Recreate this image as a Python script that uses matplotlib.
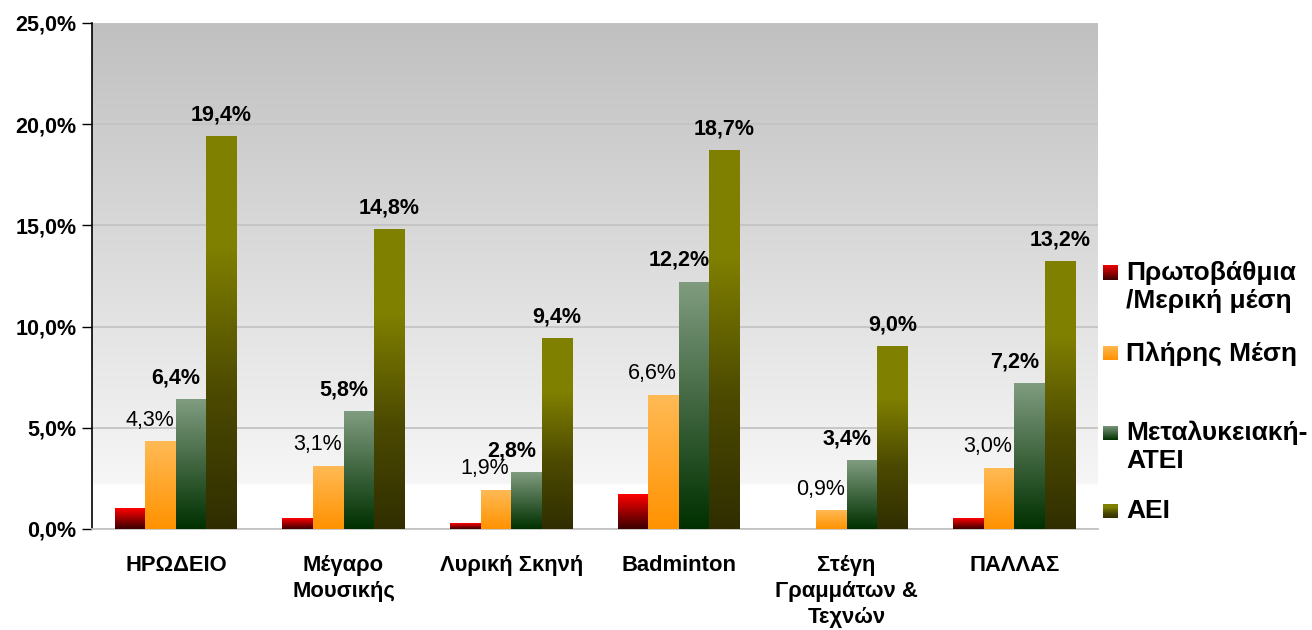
import numpy as np
import matplotlib
matplotlib.use("Agg")
import matplotlib.pyplot as plt
from matplotlib.colors import LinearSegmentedColormap
from matplotlib.ticker import FuncFormatter

plt.rcParams['font.family'] = ['Liberation Sans', 'DejaVu Sans']

categories = ["ΗΡΩΔΕΙΟ", "Μέγαρο\nΜουσικής", "Λυρική Σκηνή", "Badminton",
              "Στέγη\nΓραμμάτων &\nΤεχνών", "ΠΑΛΛΑΣ"]
series_names = ["Πρωτοβάθμια\n/Μερική μέση", "Πλήρης Μέση",
                "Μεταλυκειακή-\nΑΤΕΙ", "ΑΕΙ"]
primary = [1.0, 0.5, 0.25, 1.7, 0.0, 0.5]
full_secondary = [4.3, 3.1, 1.9, 6.6, 0.9, 3.0]
post_secondary = [6.4, 5.8, 2.8, 12.2, 3.4, 7.2]
university = [19.4, 14.8, 9.4, 18.7, 9.0, 13.2]
series_values = [primary, full_secondary, post_secondary, university]
yticks = [0, 5, 10, 15, 20, 25]

# gradient stops (bottom -> top) per series
grad_stops = [
    [(0.0, "#3a0000"), (1.0, "#ff0000")],
    [(0.0, "#ff9200"), (1.0, "#ffba55")],
    [(0.0, "#003000"), (1.0, "#809c80")],
    [(0.0, "#302e00"), (0.35, "#4c4a00"), (0.72, "#808000"), (1.0, "#808000")],
]
cmaps = [LinearSegmentedColormap.from_list(f"g{i}", s) for i, s in enumerate(grad_stops)]
label_show = [False, True, True, True]
label_weight = [None, "normal", "bold", "bold"]
label_dx = [0, -11, -15, 0]  # pixels

W, H = 1312, 630
fig = plt.figure(figsize=(W / 100, H / 100), dpi=100)
fig.patch.set_facecolor("white")
L, R, T, B = 92, 1098, 23, 529
ax = fig.add_axes([L / W, (H - B) / H, (R - L) / W, (B - T) / H])

n = len(categories)
x = np.arange(n)
bw = 0.182

ax.set_xlim(-0.5, n - 0.5)
ax.set_ylim(0, 25)

# background gradient
bg = LinearSegmentedColormap.from_list("bg", [(0.0, "#ffffff"), (0.085, "#ffffff"),
                                               (0.09, "#f6f6f6"), (1.0, "#c0c0c0")])
grad = np.linspace(0, 1, 256).reshape(-1, 1)
ax.imshow(grad, cmap=bg, aspect="auto", extent=[-0.5, n - 0.5, 0, 25],
          origin="lower", zorder=0)

ax.set_yticks(yticks)
ax.grid(axis="y", color="#c4c4c4", linewidth=1.3, zorder=1)
ax.set_axisbelow(True)

ax.yaxis.set_major_formatter(FuncFormatter(lambda v, p: f"{v:.1f}%".replace(".", ",")))
ax.tick_params(axis="y", direction="out", length=7, width=1, colors="black",
               labelsize=15.5, pad=4)
for lab in ax.get_yticklabels():
    lab.set_fontweight("bold")
ax.set_xticks(x)
ax.set_xticklabels(categories, fontsize=15.8, fontweight="bold", linespacing=1.3)
ax.tick_params(axis="x", length=0, pad=19)

for s in ["top", "right"]:
    ax.spines[s].set_visible(False)
ax.spines["bottom"].set_color("#c4c4c4")
ax.spines["bottom"].set_linewidth(1.3)
ax.spines["left"].set_color("black")
ax.spines["left"].set_linewidth(1.2)

gradimg = np.linspace(0, 1, 256).reshape(-1, 1)
for j, vals in enumerate(series_values):
    pos = x + (j - 1.5) * bw
    bars = ax.bar(pos, vals, width=bw, color="none", edgecolor="none", zorder=3)
    for b, v in zip(bars, vals):
        if v <= 0:
            continue
        x0, w, h = b.get_x(), b.get_width(), b.get_height()
        ax.imshow(gradimg, cmap=cmaps[j], aspect="auto", origin="lower",
                  extent=[x0, x0 + w, 0, h], zorder=3)
        if label_show[j]:
            ax.annotate(f"{v:.1f}%".replace(".", ","), (x0 + w / 2, h),
                        xytext=(label_dx[j] * 0.72, 8), textcoords="offset points",
                        ha="center", va="bottom", fontsize=15.5,
                        fontweight=label_weight[j], color="black", zorder=5)
ax.set_xlim(-0.5, n - 0.5)
ax.set_ylim(0, 25)

# legend (manual, gradient markers)
leg_y = [273, 353, 433, 511]
for j, name in enumerate(series_names):
    yc = leg_y[j]
    mx, ms = 1103, 15
    max_ = fig.add_axes([mx / W, (H - yc - ms / 2) / H, ms / W, ms / H])
    max_.imshow(gradimg, cmap=cmaps[j], aspect="auto", origin="lower",
                extent=[0, 1, 0, 1])
    max_.set_axis_off()
    fig.text(1126 / W, (H - yc + 12) / H, name, fontsize=19, fontweight="bold",
             va="top", ha="left", linespacing=1.2)

fig.savefig("out.png", dpi=100)
